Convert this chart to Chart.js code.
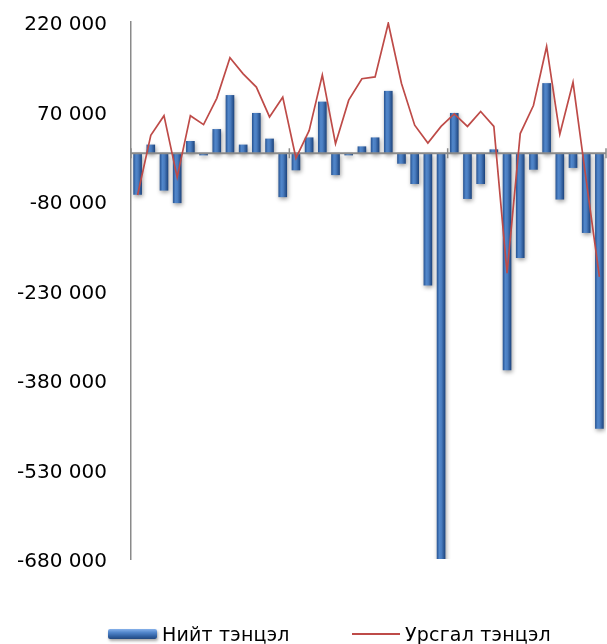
<!DOCTYPE html>
<html>
<head>
<meta charset="utf-8">
<script src="https://cdn.jsdelivr.net/npm/chart.js@4.4.0/dist/chart.umd.min.js"></script>
<style>
  html, body { margin: 0; padding: 0; background: #fff; }
  #wrap { position: relative; width: 607px; height: 644px; }
  #c { position: absolute; left: 0; top: 0; }
  .lg { position: absolute; font-family: "DejaVu Sans", sans-serif; font-size: 19px; letter-spacing: 0.2px; color: #000; white-space: nowrap; line-height: 1; }
  .swatch-bar { position: absolute; width: 49px; height: 10px; border-radius: 2px;
    background: linear-gradient(to bottom, #86b1ea 0%, #5286cb 35%, #2f5e9f 75%, #23487e 100%);
    box-shadow: 1px 2px 3px rgba(0,0,0,0.35); }
  .swatch-line { position: absolute; width: 48px; height: 2px; background: #be4b48; }
</style>
</head>
<body>
<div id="wrap">
  <canvas id="c" width="607" height="644"></canvas>
  <div class="swatch-bar" style="left:108px; top:629px;"></div>
  <div class="lg" style="left:162px; top:625px;">Нийт тэнцэл</div>
  <div class="swatch-line" style="left:352px; top:633px;"></div>
  <div class="lg" style="left:405px; top:625px;">Урсгал тэнцэл</div>
</div>
<script>
// Monthly periods, three years of twelve months
const categories = [
  '01','02','03','04','05','06','07','08','09','10','11','12',
  '01','02','03','04','05','06','07','08','09','10','11','12',
  '01','02','03','04','05','06','07','08','09','10','11','12'
];

// Нийт тэнцэл (overall balance), bars
const overallBalance = [
  -69000, 14000, -62000, -83000, 20000, -3000, 40000, 97000, 14000, 67000, 24000, -73000,
  -28000, 26000, 86000, -36000, -3000, 11000, 26000, 104000, -17000, -51000, -221000, -684000,
  67000, -76000, -51000, 6000, -363000, -175000, -27000, 117000, -77000, -24000, -133000, -461000
];

// Урсгал тэнцэл (current account balance), line
const currentBalance = [
  -70000, 30000, 63000, -40000, 63000, 48000, 92000, 160000, 133000, 111000, 61000, 94000,
  -8000, 38000, 131000, 16000, 89000, 125000, 128000, 218000, 117000, 47000, 17000, 45000,
  66000, 45000, 70000, 45000, -201000, 33000, 80000, 179000, 32000, 119000, -45000, -207000
];

// Value axis
const yMin = -680000;
const yMax = 220000;
const yStep = 150000;

function formatThousands(v) {
  const s = String(Math.abs(Math.round(v))).replace(/\B(?=(\d{3})+(?!\d))/g, ' ');
  return (v < 0 ? '-' : '') + s;
}

const BAR_THICKNESS = 8;

// Horizontal shading across each bar, like a rounded column
function barGradient(ctx) {
  const chart = ctx.chart;
  const xs = chart.scales && chart.scales.x;
  if (!xs || ctx.type !== 'data' || !chart.chartArea) return '#3f73b6';
  const cx = xs.getPixelForValue(ctx.dataIndex);
  const half = BAR_THICKNESS / 2;
  const g = chart.ctx.createLinearGradient(cx - half, 0, cx + half, 0);
  g.addColorStop(0, '#2b5897');
  g.addColorStop(0.3, '#5187cb');
  g.addColorStop(0.55, '#4a7dc0');
  g.addColorStop(1, '#1f4781');
  return g;
}

// Soft shadow under the bars, then the zero axis with year ticks over them
const zeroAxisPlugin = {
  id: 'zeroAxis',
  beforeDatasetDraw(chart, args) {
    if (args.meta.type !== 'bar') return;
    const c = chart.ctx;
    c.save();
    c.shadowColor = 'rgba(0,0,0,0.38)';
    c.shadowBlur = 4;
    c.shadowOffsetX = 1;
    c.shadowOffsetY = 2;
  },
  afterDatasetDraw(chart, args) {
    if (args.meta.type !== 'bar') return;
    const c = chart.ctx;
    c.restore();
    const xs = chart.scales.x, ys = chart.scales.y;
    const area = chart.chartArea;
    const y0 = ys.getPixelForValue(0);
    c.save();
    c.strokeStyle = '#8a8a8a';
    c.lineWidth = 2;
    c.beginPath();
    c.moveTo(area.left, y0);
    c.lineTo(area.right, y0);
    c.stroke();
    // tick before the first month of each year and at the end
    const marks = [];
    categories.forEach((lab, i) => { if (lab === '01') marks.push(i - 0.5); });
    marks.push(categories.length - 0.5);
    c.lineWidth = 1.5;
    marks.forEach(m => {
      const x = xs.getPixelForValue(m);
      c.beginPath();
      c.moveTo(x, y0 - 5);
      c.lineTo(x, y0 + 5);
      c.stroke();
    });
    c.restore();
  }
};

new Chart(document.getElementById('c'), {
  data: {
    labels: categories,
    datasets: [
      {
        type: 'line',
        label: 'Урсгал тэнцэл',
        data: currentBalance,
        borderColor: '#be4b48',
        borderWidth: 1.7,
        pointRadius: 0,
        tension: 0,
        order: 0
      },
      {
        type: 'bar',
        label: 'Нийт тэнцэл',
        data: overallBalance,
        backgroundColor: barGradient,
        borderWidth: 0,
        barThickness: BAR_THICKNESS,
        order: 1
      }
    ]
  },
  options: {
    responsive: false,
    animation: false,
    events: [],
    layout: { padding: { top: 22, right: 1, bottom: 85, left: 0 } },
    plugins: {
      legend: { display: false },
      tooltip: { enabled: false }
    },
    scales: {
      x: {
        type: 'category',
        display: false,
        offset: true
      },
      y: {
        min: yMin,
        max: yMax,
        grid: {
          display: true,
          drawOnChartArea: false,
          drawTicks: true,
          tickLength: 24,
          color: 'rgba(0,0,0,0)'
        },
        border: { display: true, color: '#8a8a8a', width: 1.5 },
        ticks: {
          stepSize: yStep,
          padding: 0,
          labelOffset: 3,
          color: '#000',
          font: { family: 'DejaVu Sans', size: 20 },
          callback: (v) => formatThousands(v)
        },
        afterFit: (s) => { s.width = 131; }
      }
    }
  },
  plugins: [zeroAxisPlugin]
});
</script>
</body>
</html>
